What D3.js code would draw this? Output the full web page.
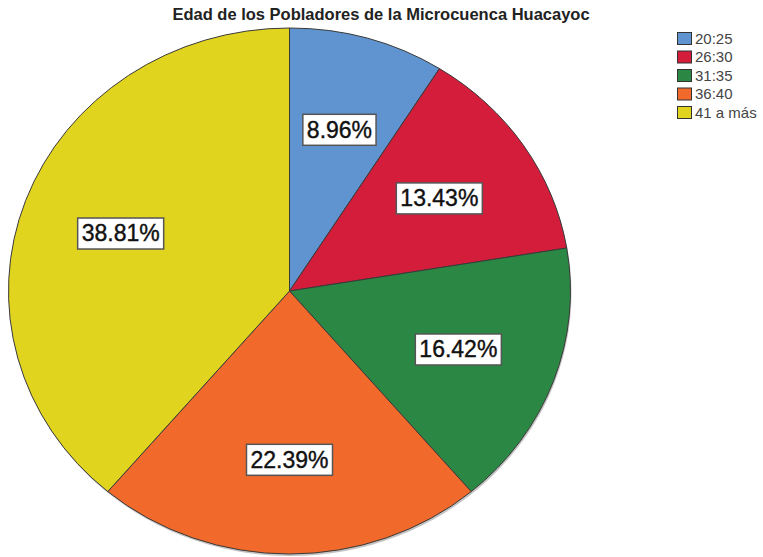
<!DOCTYPE html>
<html>
<head>
<meta charset="utf-8">
<script src="https://cdn.jsdelivr.net/npm/d3@7"></script>
<style>
  body { margin: 0; background: #fff; }
  svg { display: block; font-family: "Liberation Sans", Arial, sans-serif; }
</style>
</head>
<body>
<div id="chart"></div>
<script>
// Datos del gráfico
const categorias = ['20:25', '26:30', '31:35', '36:40', '41 a más'];
const porcentajes = [8.96, 13.43, 16.42, 22.39, 38.81];
const colores = ['#5f94d0', '#d31d3a', '#2a8844', '#f26a2b', '#e1d41f'];
const titulo = 'Edad de los Pobladores de la Microcuenca Huacayoc';

const width = 763;
const height = 557;
const cx = 289.5, cy = 291;
const ry = 263, rx = 281;

const svg = d3.select('#chart')
  .append('svg')
  .attr('width', width)
  .attr('height', height);

svg.append('text')
  .attr('x', 381)
  .attr('y', 20)
  .attr('text-anchor', 'middle')
  .style('font-size', '16.5px')
  .style('font-weight', 'bold')
  .style('fill', '#222')
  .text(titulo);

const datos = categorias.map((c, i) => ({ cat: c, val: porcentajes[i], color: colores[i] }));

const pie = d3.pie().value(d => d.val).sort(null);
const arc = d3.arc().innerRadius(0).outerRadius(ry);
const arcLabel = d3.arc().innerRadius(ry * 0.64).outerRadius(ry * 0.64);
const arcos = pie(datos);

// Sombra suave
svg.append('ellipse')
  .attr('cx', cx + 1)
  .attr('cy', cy + 2)
  .attr('rx', rx)
  .attr('ry', ry)
  .style('fill', '#888')
  .style('opacity', 0.5);

const g = svg.append('g')
  .attr('transform', `translate(${cx},${cy}) scale(${rx / ry},1)`);

g.selectAll('path')
  .data(arcos)
  .enter()
  .append('path')
  .attr('d', arc)
  .attr('vector-effect', 'non-scaling-stroke')
  .style('fill', d => d.data.color)
  .style('stroke', '#3a3a3a')
  .style('stroke-width', '1px');

// Etiquetas
const etiquetas = svg.append('g');
arcos.forEach(d => {
  const [x0, y0] = arcLabel.centroid(d);
  const x = cx + x0 * rx / ry;
  const y = cy + y0;
  const lg = etiquetas.append('g').attr('transform', `translate(${x},${y})`);
  const t = lg.append('text')
    .attr('text-anchor', 'middle')
    .attr('dy', '0.36em')
    .style('font-size', '23px')
    .style('fill', '#111')
    .style('stroke', '#111')
    .style('stroke-width', '0.4px')
    .text(d.data.val.toFixed(2) + '%');
  const bb = t.node().getBBox();
  lg.insert('rect', 'text')
    .attr('x', bb.x - 4)
    .attr('y', -15)
    .attr('width', bb.width + 8)
    .attr('height', 31)
    .style('fill', '#fff')
    .style('stroke', '#555')
    .style('stroke-width', '1.5px');
});

// Leyenda
const leyenda = svg.append('g').attr('transform', 'translate(677,32)');
datos.forEach((d, i) => {
  const row = leyenda.append('g').attr('transform', `translate(0,${i * 18.5})`);
  row.append('rect')
    .attr('x', 0.5)
    .attr('y', 0.5)
    .attr('width', 14)
    .attr('height', 12)
    .style('fill', d.color)
    .style('stroke', '#333')
    .style('stroke-width', '1px');
  row.append('text')
    .attr('x', 18)
    .attr('y', 11.5)
    .style('font-size', '15px')
    .style('fill', '#444')
    .text(d.cat);
});
</script>
</body>
</html>
